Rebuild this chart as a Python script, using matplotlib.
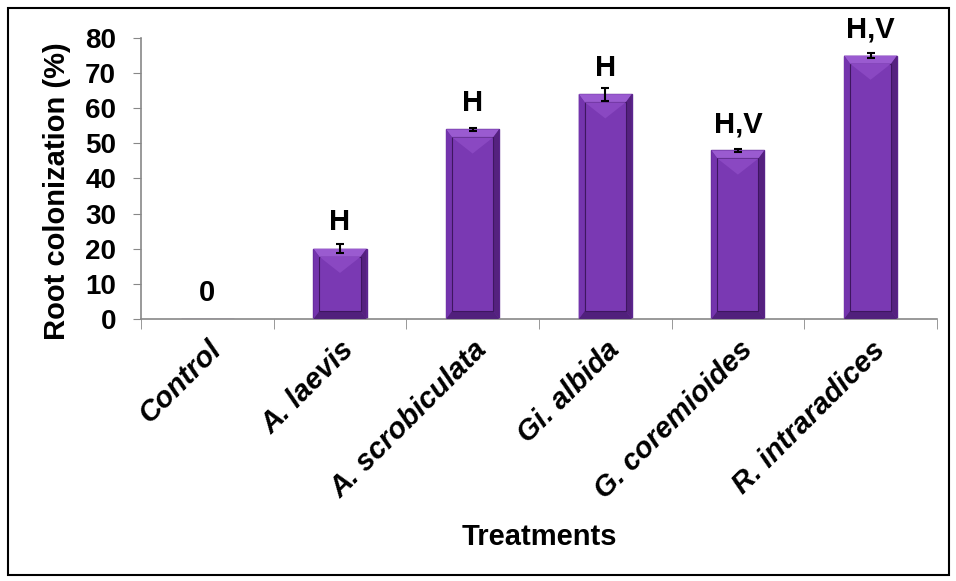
import numpy as np
import matplotlib.pyplot as plt
import matplotlib.transforms as mtransforms
from matplotlib.patches import Rectangle

treatments = ['Control', 'A. laevis', 'A. scrobiculata', 'Gi. albida', 'G. coremioides', 'R. intraradices']
colonization = [0, 20, 54, 64, 48, 75]
errors = [0, 1.3, 0.5, 1.8, 0.5, 0.6]
letters = ['0', 'H', 'H', 'H', 'H,V', 'H,V']

plt.rcParams['font.family'] = ['Liberation Sans', 'DejaVu Sans']

fig = plt.figure(figsize=(9.56, 5.81), dpi=100)
ax = fig.add_axes([0.1475, 0.451, 0.8325, 0.4836])

x = np.arange(len(treatments))
w = 0.4
ax.bar(x, colonization, width=w, color='#6c2fa3', edgecolor='#5c2590', linewidth=1, zorder=2)

# bevel look: top / bottom / side facets and an inner face
bx = 0.045   # horizontal bevel in data units
by = 2.3     # vertical bevel in data units
for xi, v in zip(x, colonization):
    if v <= 0:
        continue
    l, r = xi - w / 2, xi + w / 2
    il, ir = l + bx, r - bx
    ax.fill([l, r, ir, il], [v, v, v - by, v - by], color='#9a5bd0', zorder=3, lw=0)
    ax.fill([l, r, ir, il], [0, 0, by, by], color='#51207c', zorder=3, lw=0)
    ax.fill([r, r, ir, ir], [0, v, v - by, by], color='#55217f', zorder=3, lw=0)
    ax.fill([l, l, il, il], [0, v, v - by, by], color='#7434ad', zorder=3, lw=0)
    ax.add_patch(Rectangle((il, by), ir - il, v - 2 * by, facecolor='#7a39b3',
                           edgecolor='#3e1660', linewidth=0.8, zorder=3))
    ax.fill([il, ir, xi], [v - by, v - by, v - 3 * by], color='#8a48c2', zorder=4, lw=0)

ex = [xi for xi, e in zip(x, errors) if e > 0]
ev = [v for v, e in zip(colonization, errors) if e > 0]
ee = [e for e in errors if e > 0]
ax.errorbar(ex, ev, yerr=ee, fmt='none', ecolor='black',
            elinewidth=1.5, capsize=3, capthick=1.5, zorder=5)

for xi, v, lab in zip(x, colonization, letters):
    ax.text(xi, v + 5.2, lab, ha='center', va='baseline', fontsize=21, fontweight='bold')

ax.set_xlim(-0.5, len(treatments) - 0.5)
ax.set_ylim(0, 80)
ax.set_yticks(range(0, 81, 10))
ax.set_xticks(x)
ax.set_xticklabels(treatments, rotation=45, ha='right', rotation_mode='anchor',
                   fontsize=21, fontweight='bold', fontstyle='italic')
shift = mtransforms.ScaledTranslation(-6 / 100, 0, fig.dpi_scale_trans)
for t in ax.get_xticklabels():
    t.set_transform(t.get_transform() + shift)
ax.set_xticks(np.arange(-0.5, len(treatments), 1), minor=True)
ax.tick_params(axis='x', which='major', length=0, pad=12)
ax.tick_params(axis='x', which='minor', length=7, color='#888888', direction='out')
ax.tick_params(axis='y', length=6, color='#888888', labelsize=20, pad=12)
for t in ax.get_yticklabels():
    t.set_fontweight('bold')

for s in ['top', 'right']:
    ax.spines[s].set_visible(False)
for s in ['left', 'bottom']:
    ax.spines[s].set_color('#888888')
    ax.spines[s].set_linewidth(1.2)

ax.set_ylabel('Root colonization (%)', fontsize=21, fontweight='bold')
ax.yaxis.set_label_coords(-0.088, 0.455)
ax.set_xlabel('Treatments', fontsize=21, fontweight='bold')
ax.xaxis.set_label_coords(0.5, -0.725)

fig.patches.append(Rectangle((0.008, 0.01), 0.985, 0.977, transform=fig.transFigure,
                             fill=False, edgecolor='black', linewidth=1.5))

fig.savefig('out.png', dpi=100)
